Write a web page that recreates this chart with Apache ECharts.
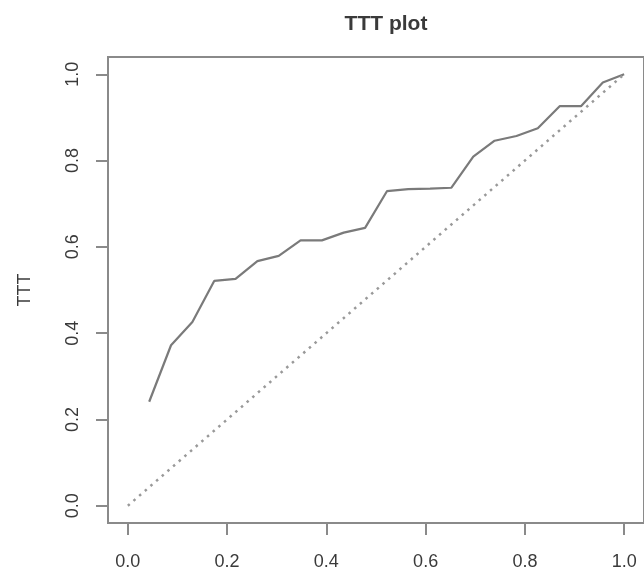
<!DOCTYPE html>
<html>
<head>
<meta charset="utf-8">
<script src="https://cdn.jsdelivr.net/npm/echarts@6/dist/echarts.min.js"></script>
<style>html,body{margin:0;padding:0;background:#fff}#c{width:644px;height:571px}</style>
</head>
<body>
<div id="c"></div>
<script>
// Data
var xValues = [0.043, 0.087, 0.130, 0.174, 0.217, 0.261, 0.304, 0.348, 0.391, 0.435, 0.478, 0.522, 0.565, 0.609, 0.652, 0.696, 0.739, 0.783, 0.826, 0.870, 0.913, 0.957, 1.000];
var tttValues = [0.241, 0.372, 0.426, 0.521, 0.526, 0.567, 0.579, 0.615, 0.615, 0.633, 0.644, 0.729, 0.734, 0.735, 0.737, 0.809, 0.846, 0.857, 0.875, 0.926, 0.926, 0.981, 1.000];
var refX = [0, 1];
var refY = [0, 1];
var tickValues = [0, 0.2, 0.4, 0.6, 0.8, 1.0];
var chartTitle = 'TTT plot';
var yName = 'TTT';

var curve = xValues.map(function (x, i) { return [x, tttValues[i]]; });
var diag = refX.map(function (x, i) { return [x, refY[i]]; });

var chart = echarts.init(document.getElementById('c'), null, {renderer: 'canvas'});
var labelColor = '#3a3a3a';
var fontFam = 'Liberation Sans, Arial, sans-serif';
chart.setOption({
  animation: false,
  backgroundColor: '#fff',
  title: {
    text: chartTitle,
    left: 381,
    top: 9,
    textAlign: 'center',
    textStyle: {fontFamily: fontFam, fontSize: 21, fontWeight: 'bold', color: labelColor}
  },
  grid: {
    left: 108, top: 57, width: 546, height: 467,
    show: true, borderColor: '#8a8a8a', borderWidth: 2, backgroundColor: 'transparent'
  },
  xAxis: {
    type: 'value', min: -0.04, max: 1.04,
    splitLine: {show: false},
    axisLine: {show: false, onZero: false},
    axisTick: {show: true, inside: false, customValues: tickValues, length: 12, lineStyle: {color: '#8a8a8a', width: 2}},
    axisLabel: {customValues: tickValues, margin: 30, color: labelColor, fontSize: 18, fontFamily: fontFam,
      formatter: function (v) { return v.toFixed(1); }}
  },
  yAxis: {
    type: 'value', min: -0.04, max: 1.04,
    name: yName, nameLocation: 'middle', nameGap: 74,
    nameTextStyle: {color: labelColor, fontSize: 18, fontFamily: fontFam},
    splitLine: {show: false},
    axisLine: {show: false, onZero: false},
    axisTick: {show: true, inside: false, customValues: tickValues, length: 12, lineStyle: {color: '#8a8a8a', width: 2}},
    axisLabel: {customValues: tickValues, margin: 26, rotate: 90, color: labelColor, fontSize: 18, fontFamily: fontFam,
      formatter: function (v) { return v.toFixed(1); }}
  },
  series: [
    {
      type: 'line', data: curve, symbol: 'none',
      lineStyle: {color: '#7a7a7a', width: 2.2}
    },
    {
      type: 'line', data: diag, symbol: 'none',
      lineStyle: {color: '#999999', width: 2.5, type: [2.5, 5]}
    }
  ]
});
</script>
</body>
</html>
